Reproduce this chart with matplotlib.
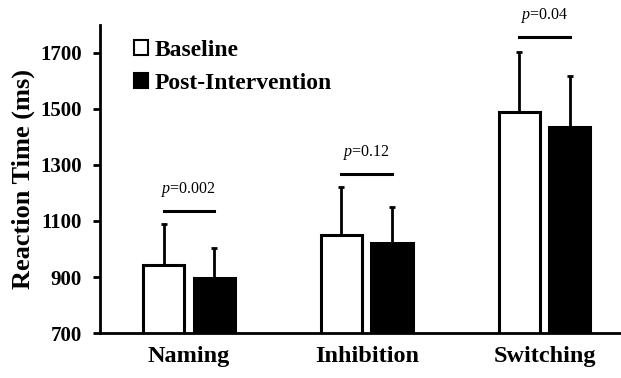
import matplotlib.pyplot as plt
import numpy as np

# reaction time data
tasks = ['Naming', 'Inhibition', 'Switching']
baseline = [943, 1050, 1489]
baseline_sd = [146, 171, 215]
post = [896, 1021, 1436]
post_sd = [107, 129, 182]
p_labels = ['0.002', '0.12', '0.04']
p_line_y = [1136, 1268, 1757]

plt.rcParams['font.family'] = ['Liberation Serif', 'DejaVu Serif']
plt.rcParams['mathtext.fontset'] = 'custom'
plt.rcParams['mathtext.rm'] = 'Liberation Serif'
plt.rcParams['mathtext.it'] = 'Liberation Serif:italic'

fig = plt.figure(figsize=(6.21, 3.78), dpi=100)
ax = fig.add_axes([0.161, 0.119, 0.839, 0.815])

x = np.arange(len(tasks))
w = 0.231
off = 0.142

ax.bar(x - off, baseline, w, color='white', edgecolor='black',
       linewidth=2.2, label='Baseline', zorder=2)
ax.bar(x + off, post, w, color='black', edgecolor='black',
       linewidth=2.2, label='Post-Intervention', zorder=2)
ax.errorbar(x - off, baseline, yerr=[np.zeros(3), baseline_sd], fmt='none',
            ecolor='black', elinewidth=2, capsize=2, capthick=2, zorder=1)
ax.errorbar(x + off, post, yerr=[np.zeros(3), post_sd], fmt='none',
            ecolor='black', elinewidth=2, capsize=2, capthick=2, zorder=1)

# significance lines and p values
for i in range(len(tasks)):
    ax.plot([x[i] - off, x[i] + off], [p_line_y[i], p_line_y[i]],
            color='black', lw=2.2, clip_on=False)
    ax.text(x[i], p_line_y[i] + 78, '$p$=' + p_labels[i], ha='center',
            va='center', fontsize=11.5, clip_on=False)

ax.set_ylim(700, 1800)
ax.set_xlim(-0.5, 2.43)
ax.set_yticks([700, 900, 1100, 1300, 1500, 1700])
ax.set_xticks(x)
ax.set_xticklabels(tasks, fontsize=17.5, fontweight='bold')
for lab in ax.get_yticklabels():
    lab.set_fontsize(15)
    lab.set_fontweight('bold')
ax.tick_params(axis='x', length=0, pad=9)
ax.tick_params(axis='y', direction='out', length=5, width=2, pad=8)
ax.set_ylabel('Reaction Time (ms)', fontsize=19, fontweight='bold', labelpad=4)

ax.spines['top'].set_visible(False)
ax.spines['right'].set_visible(False)
ax.spines['left'].set_linewidth(2)
ax.spines['bottom'].set_linewidth(2)

leg = ax.legend(loc='upper left', bbox_to_anchor=(0.025, 1.02), frameon=False,
                prop={'size': 17, 'weight': 'bold'}, handlelength=0.6,
                handleheight=0.6, handletextpad=0.25, labelspacing=0.5)
for h in leg.legend_handles:
    h.set_linewidth(1.5)

fig.savefig('out.png', dpi=100)
